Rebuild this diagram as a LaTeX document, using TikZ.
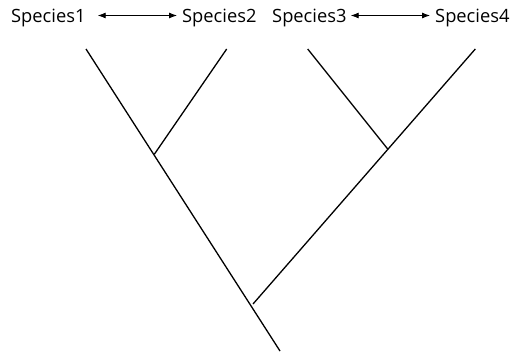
\documentclass[tikz,border=0pt]{standalone}
\usepackage{fontspec}
\setmainfont{Open Sans}
\usetikzlibrary{arrows.meta}
\begin{document}
\begin{tikzpicture}[x=1pt,y=-1pt,
  branch/.style={line width=1.3pt, line cap=butt},
  lbl/.style={inner sep=0pt, font=\fontsize{18.3}{21}\selectfont, anchor=base west},
  link/.style={line width=0.9pt, {Latex[length=8pt,width=6pt]}-{Latex[length=8pt,width=6pt]}}]
\useasboundingbox (0,0) rectangle (522,353);
\node[lbl] (s1) at (11,22.5) {Species1};
\node[lbl] (s2) at (182,22.5) {Species2};
\node[lbl] (s3) at (272,22.5) {Species3};
\node[lbl] (s4) at (435,22.5) {Species4};
\coordinate (t1) at (86,49);
\coordinate (t2) at (226.7,49);
\coordinate (t3) at (307.7,49);
\coordinate (t4) at (475.3,49);
\coordinate (root) at (280,351);
\coordinate (n12) at (154.3,154.3);
\coordinate (n34) at (387.7,149);
\coordinate (n0) at (253,304);
\draw[branch] (t1) -- (root);
\draw[branch] (t2) -- (n12);
\draw[branch] (t3) -- (n34);
\draw[branch] (t4) -- (n0);
\draw[link] ([xshift=12pt]s1.east |- 0,15.5) -- ([xshift=-5pt]s2.west |- 0,15.5);
\draw[link] ([xshift=4pt]s3.east |- 0,15.5) -- ([xshift=-5pt]s4.west |- 0,15.5);
\end{tikzpicture}
\end{document}
